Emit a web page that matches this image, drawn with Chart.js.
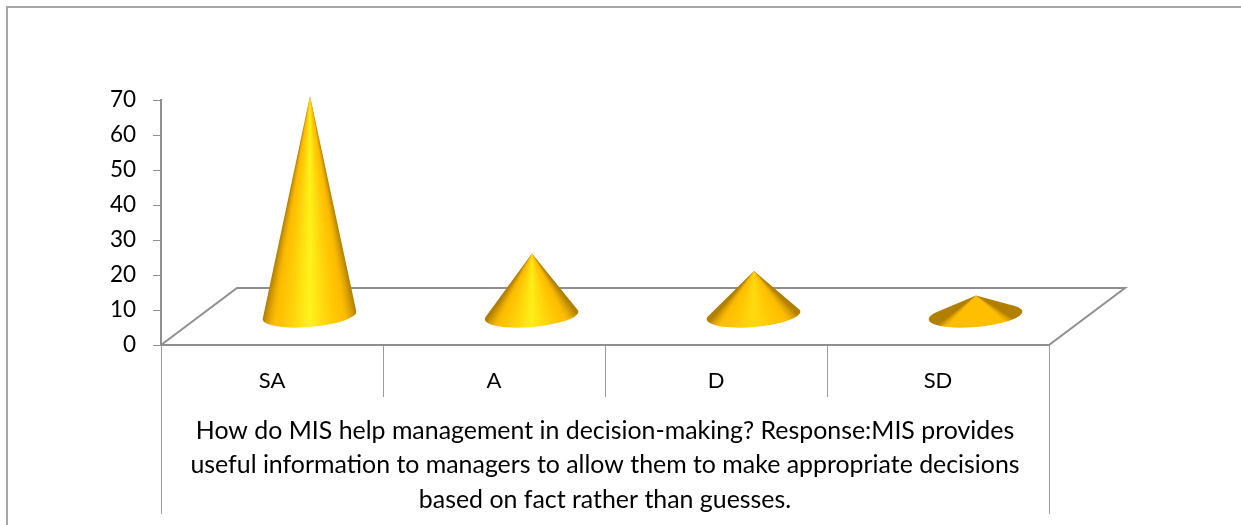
<!DOCTYPE html>
<html><head><meta charset="utf-8">
<style>html,body{margin:0;padding:0;background:#fff}canvas{display:block}</style>
<script src="https://cdn.jsdelivr.net/npm/chart.js@4"></script>
</head><body><canvas id="c" width="1241" height="525"></canvas>
<script>
const categories = ["SA", "A", "D", "SD"];
const responses = [63, 18, 13, 6];
const yTicks = [0, 10, 20, 30, 40, 50, 60, 70];
const axisTitle = [
  "How do MIS help management in decision-making? Response:MIS provides",
  "useful information to managers to allow them to make appropriate decisions",
  "based on fact rather than guesses."
];
const FONT = "Lato, 'Open Sans', sans-serif";
const GREY = "#8f8f8f";
const DEPTH_X = 76, DEPTH_Y = 57;

function lerpColor(a, b, t) {
  return "rgb(" + a.map((v, i) => Math.round(v + (b[i] - v) * t)).join(",") + ")";
}

const frame = {
  id: "frame",
  beforeDraw(chart) {
    const ctx = chart.ctx, x = chart.scales.x, y = chart.scales.y;
    const y0 = y.getPixelForValue(0);
    ctx.save();
    ctx.strokeStyle = "#a6a6a6"; ctx.lineWidth = 2;
    ctx.beginPath();
    ctx.moveTo(7, 525); ctx.lineTo(7, 7); ctx.lineTo(1241, 7);
    ctx.stroke();
    ctx.strokeStyle = GREY; ctx.lineWidth = 2;
    ctx.beginPath();
    ctx.moveTo(x.left, y0);
    ctx.lineTo(x.left + DEPTH_X, y0 - DEPTH_Y);
    ctx.lineTo(x.right + DEPTH_X, y0 - DEPTH_Y);
    ctx.lineTo(x.right, y0);
    ctx.stroke();
    // outer category lines run down beside the axis title
    ctx.strokeStyle = "#9c9c9c"; ctx.lineWidth = 1;
    ctx.beginPath();
    ctx.moveTo(x.left + 0.5, y0); ctx.lineTo(x.left + 0.5, 514);
    ctx.moveTo(x.right + 0.5, y0); ctx.lineTo(x.right + 0.5, 514);
    ctx.stroke();
    ctx.restore();
  }
};

const cones = {
  id: "cones",
  afterDatasetsDraw(chart) {
    const ctx = chart.ctx;
    const meta = chart.getDatasetMeta(0);
    const rx = 47, ry = 11.5, rot = -0.085;
    const dark = [178, 128, 0], amber = [255, 190, 0], bright = [255, 243, 26];
    meta.data.forEach(bar => {
      const cx = bar.x + DEPTH_X / 2 - 0.5;
      const cy = bar.base - DEPTH_Y / 2 - 0.5;
      const ax = bar.x + DEPTH_X / 2;
      const ay = bar.y - DEPTH_Y / 2;
      const c = Math.cos(-rot), s = Math.sin(-rot);
      const dx = ax - cx, dy = ay - cy;
      const ux = (dx * c - dy * s) / rx, uy = (dx * s + dy * c) / ry;
      const d = Math.hypot(ux, uy);
      const base = Math.atan2(uy, ux), off = Math.acos(1 / d);
      const tRight = base + off, tLeft = base - off + 2 * Math.PI;
      const pt = t => {
        const ex = rx * Math.cos(t), ey = ry * Math.sin(t);
        const cr = Math.cos(rot), sr = Math.sin(rot);
        return [cx + ex * cr - ey * sr, cy + ex * sr + ey * cr];
      };
      const k = Math.max(0, Math.min(1, ((cy - ay) / rx - 0.4) / 1.0));
      const grad = ctx.createConicGradient(-Math.PI / 2, ax, ay);
      const N = 64;
      const stops = [];
      const xR = pt(tRight)[0], xL = pt(tLeft)[0];
      for (let i = 0; i <= N; i++) {
        const t = tRight + (tLeft - tRight) * i / N;
        const p = pt(t);
        let ang = Math.atan2(p[1] - ay, p[0] - ax) + Math.PI / 2;
        if (ang < 0) ang += 2 * Math.PI;
        const e = Math.min(1, Math.abs(2 * (p[0] - xL) / (xR - xL) - 1));
        const knee = 0.72;
        const col = e < knee
          ? lerpColor(amber, bright, Math.pow(1 - e / knee, 1.2) * k)
          : lerpColor(amber, dark, Math.pow((e - knee) / (1 - knee), 1.6));
        stops.push([ang / (2 * Math.PI), col]);
      }
      stops.sort((a, b) => a[0] - b[0]);
      stops.forEach(st => grad.addColorStop(st[0], st[1]));
      ctx.save();
      ctx.fillStyle = grad;
      ctx.beginPath();
      ctx.moveTo(ax, ay);
      const pr = pt(tRight);
      ctx.lineTo(pr[0], pr[1]);
      ctx.ellipse(cx, cy, rx, ry, rot, tRight, tLeft);
      ctx.closePath();
      ctx.fill();
      ctx.restore();
    });
  }
};

new Chart(document.getElementById("c"), {
  type: "bar",
  data: {
    labels: categories,
    datasets: [{ label: "Responses", data: responses, backgroundColor: "rgba(0,0,0,0)", borderWidth: 0 }]
  },
  plugins: [frame, cones],
  options: {
    responsive: false,
    animation: false,
    layout: { padding: { left: 0, right: 192, top: 100, bottom: 0 } },
    plugins: { legend: { display: false }, tooltip: { enabled: false } },
    scales: {
      x: {
        afterFit(s) { s.height = 180; },
        grid: { drawOnChartArea: false, drawTicks: true, tickLength: 52, color: "#9c9c9c", lineWidth: 1 },
        border: { color: GREY, width: 2 },
        ticks: { color: "#000", font: { family: FONT, size: 22 }, padding: -29, maxRotation: 0 },
        title: {
          display: true, text: axisTitle, color: "#000",
          font: { family: FONT, size: 24.9, lineHeight: 1.39 },
          padding: { top: 0, bottom: 8 }
        }
      },
      y: {
        min: 0, max: 70,
        afterFit(s) { s.width = 161; },
        afterBuildTicks(s) { s.ticks = yTicks.map(v => ({ value: v })); },
        grid: { drawOnChartArea: false, tickLength: 8, color: GREY, lineWidth: 1 },
        border: { color: GREY, width: 2 },
        ticks: { color: "#000", font: { family: FONT, size: 22.5 }, padding: 17 }
      }
    }
  }
});
</script></body></html>
